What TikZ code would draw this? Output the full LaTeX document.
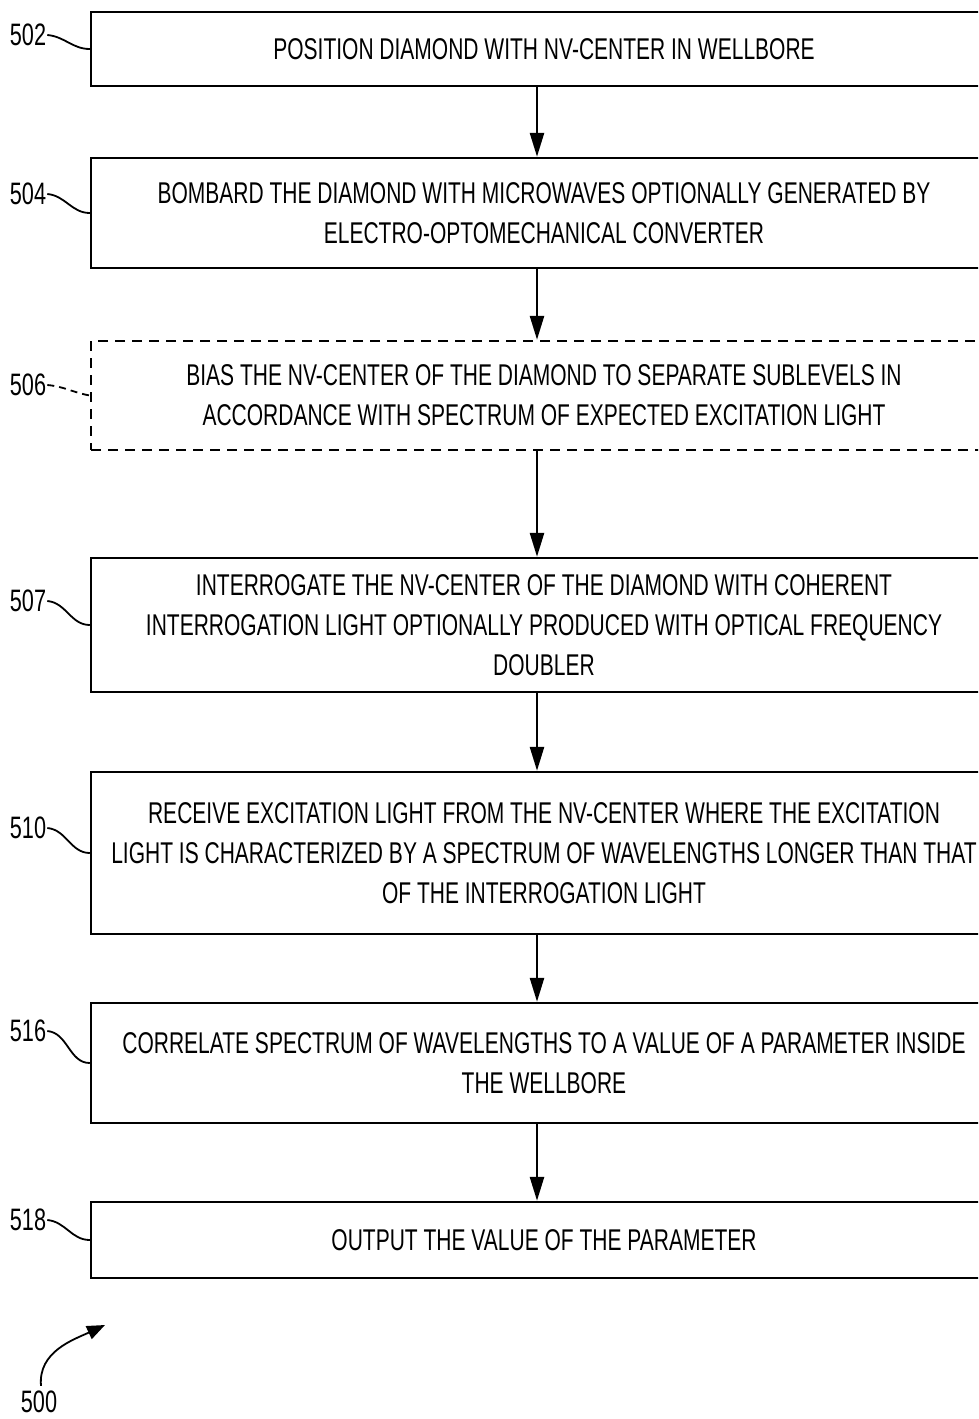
\documentclass[tikz,border=0pt]{standalone}
\usepackage{fontspec}
\setmainfont{Liberation Sans}[FakeStretch=0.70]
\usetikzlibrary{arrows.meta}
\tikzset{
  stepbox/.style={draw, line width=2.4pt, minimum width=906pt, inner sep=0pt,
    align=center, font=\fontsize{30}{40}\selectfont},
  flow/.style={line width=2.6pt, -{Triangle[length=24pt,width=14pt]}},
  reflabel/.style={inner sep=1pt, font=\fontsize{31}{32}\selectfont},
  leader/.style={line width=1.8pt}
}
\begin{document}
\begin{tikzpicture}[x=1pt, y=-1pt]
	\useasboundingbox (0, 0) rectangle (978, 1419);
	\clip (0, 0) rectangle (978, 1419);

	% process steps
	\node[stepbox, minimum height=74pt] (b502) at (544, 49) {POSITION DIAMOND WITH NV-CENTER IN WELLBORE};
	\node[stepbox, minimum height=110pt] (b504) at (544, 213) {BOMBARD THE DIAMOND WITH MICROWAVES OPTIONALLY GENERATED BY\\ELECTRO-OPTOMECHANICAL CONVERTER};
	\node[stepbox, minimum height=109pt, dashed, dash pattern=on 10pt off 7pt] (b506) at (544, 395.5) {BIAS THE NV-CENTER OF THE DIAMOND TO SEPARATE SUBLEVELS IN\\ACCORDANCE WITH SPECTRUM OF EXPECTED EXCITATION LIGHT};
	\node[stepbox, minimum height=134pt] (b507) at (544, 625) {INTERROGATE THE NV-CENTER OF THE DIAMOND WITH COHERENT\\INTERROGATION LIGHT OPTIONALLY PRODUCED WITH OPTICAL FREQUENCY\\DOUBLER};
	\node[stepbox, minimum height=162pt] (b510) at (544, 853) {RECEIVE EXCITATION LIGHT FROM THE NV-CENTER WHERE THE EXCITATION\\LIGHT IS CHARACTERIZED BY A SPECTRUM OF WAVELENGTHS LONGER THAN THAT\\OF THE INTERROGATION LIGHT};
	\node[stepbox, minimum height=120pt] (b516) at (544, 1063) {CORRELATE SPECTRUM OF WAVELENGTHS TO A VALUE OF A PARAMETER INSIDE\\THE WELLBORE};
	\node[stepbox, minimum height=76pt] (b518) at (544, 1240) {OUTPUT THE VALUE OF THE PARAMETER};

	% connectors
	\foreach \a/\b in {b502/b504, b504/b506, b506/b507, b507/b510, b510/b516, b516/b518}
	\draw[flow] (\a.south -| 537, 0) -- (\b.north -| 537, 0);

	% reference numerals
	\node[reflabel] (l502) at (28, 35) {502};
	\node[reflabel] (l504) at (28, 194) {504};
	\node[reflabel] (l506) at (28, 385) {506};
	\node[reflabel] (l507) at (28, 601) {507};
	\node[reflabel] (l510) at (28, 828) {510};
	\node[reflabel] (l516) at (28, 1031) {516};
	\node[reflabel] (l518) at (28, 1220) {518};
	\node[reflabel] (l500) at (39, 1402) {500};

	\foreach \n in {502, 504, 507, 510, 516, 518}
	\draw[leader] (l\n.east) to[out=-5, in=180] (b\n.west);
	\draw[leader, dashed, dash pattern=on 7pt off 5pt] (l506.east) to[out=-5, in=170] (b506.west);

	\coordinate (p500) at (105, 1325);
	\draw[leader, -{Triangle[length=18pt,width=14pt]}] (l500.north) ++(2, -4) to[out=95, in=205] (p500);
\end{tikzpicture}
\end{document}
